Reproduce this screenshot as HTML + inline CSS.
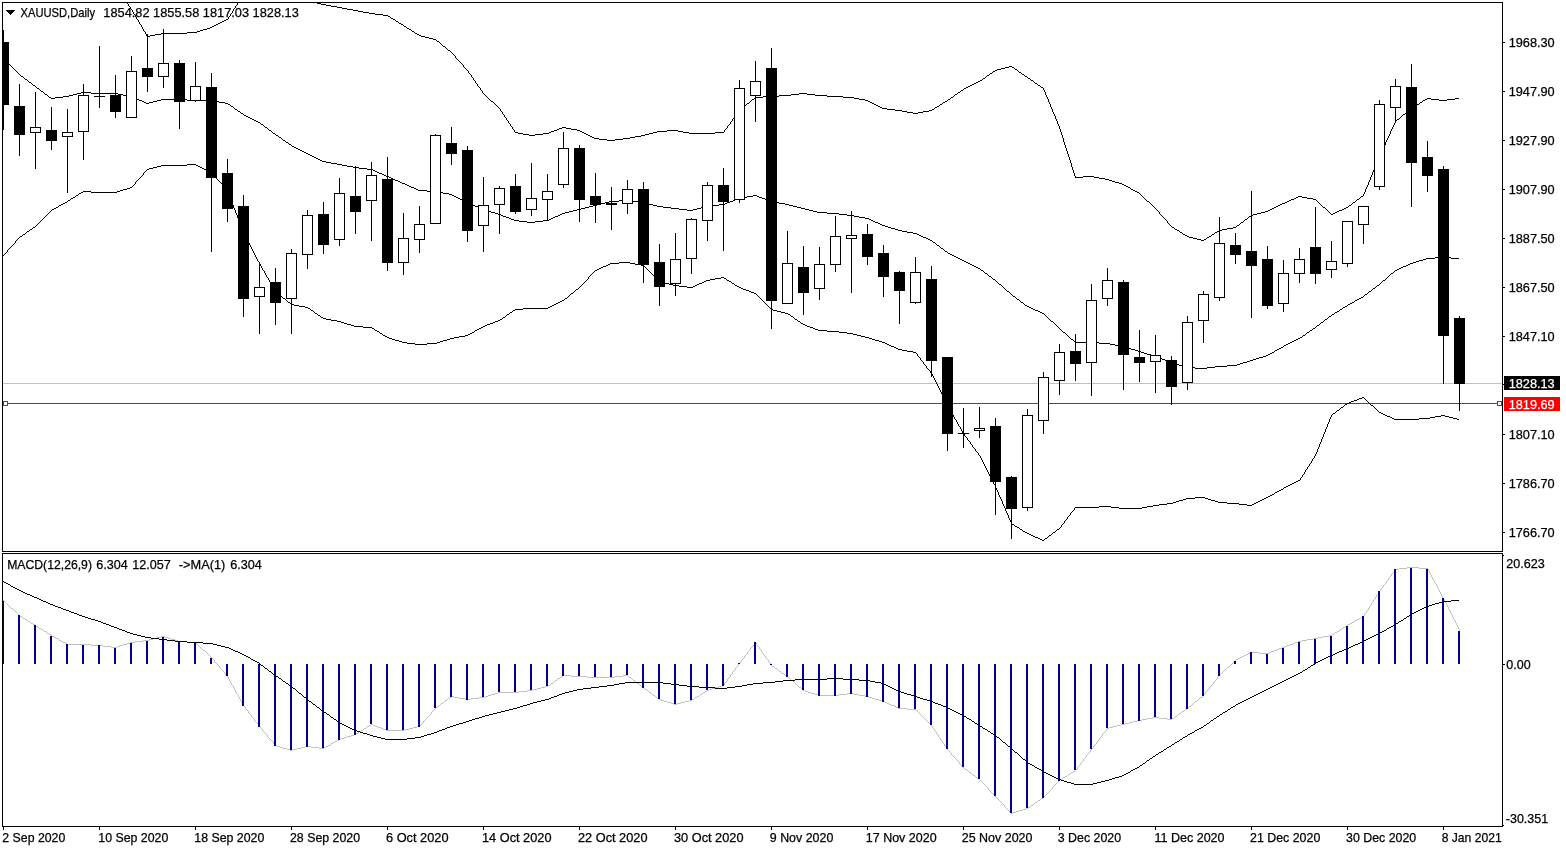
<!DOCTYPE html>
<html><head><meta charset="utf-8"><title>XAUUSD,Daily</title>
<style>
html,body{margin:0;padding:0;background:#fff;overflow:hidden}
svg{display:block}
text{font-family:"Liberation Sans",sans-serif;font-size:12.6px;fill:#000;stroke:#000;stroke-width:.25px}
.w{fill:#fff;stroke:#fff}
</style></head><body>
<svg width="1566" height="850" viewBox="0 0 1566 850">
<rect x="0" y="0" width="1566" height="850" fill="#fff"/>
<defs><clipPath id="cm"><rect x="3" y="3" width="1499" height="548"/></clipPath><clipPath id="cs"><rect x="3" y="554" width="1499" height="272"/></clipPath></defs>
<g shape-rendering="crispEdges">
<g clip-path="url(#cm)">
<rect x="3" y="383" width="1499" height="1" fill="#c0c0c0"/>
<rect x="3" y="403" width="1499" height="1" fill="#f00"/>
<path d="M317 3.5h4M321 4.5h5M326 5.5h5M331 6.5h6M337 7.5h5M342 8.5h5M347 9.5h6M353 10.5h5M358 11.5h5M363 12.5h6M369 13.5h6M375 14.5h8M383 15.5h5M388 16.5h2M391 18.5h2M226 19.5h2M393 19.5h2M224 20.5h2M222 21.5h2M396 21.5h2M220 22.5h2M218 23.5h2M399 23.5h2M216 24.5h2M401 24.5h2M214 25.5h2M212 26.5h2M404 26.5h2M210 27.5h2M207 28.5h3M407 28.5h2M203 29.5h4M409 29.5h2M200 30.5h3M197 31.5h3M412 31.5h2M187 32.5h10M161 33.5h26M415 33.5h2M155 34.5h6M417 34.5h2M150 35.5h5M419 35.5h2M147 36.5h3M421 36.5h4M425 37.5h4M429 38.5h4M433 39.5h3M437 41.5h2M443 46.5h2M448 50.5h2M1009 66.5h3M1005 67.5h4M1012 67.5h2M1001 68.5h4M997 69.5h4M1015 69.5h2M995 70.5h2M993 71.5h2M1019 72.5h2M990 73.5h2M1022 74.5h2M987 75.5h2M1025 76.5h2M983 78.5h2M1028 78.5h2M980 80.5h2M1031 80.5h2M978 81.5h2M976 82.5h2M974 83.5h2M1035 83.5h2M972 84.5h2M970 85.5h2M1038 85.5h2M968 86.5h2M966 87.5h2M1041 87.5h2M964 88.5h2M961 90.5h2M958 92.5h2M799 93.5h8M791 94.5h8M807 94.5h8M955 94.5h2M779 95.5h12M815 95.5h12M763 96.5h16M827 96.5h16M755 97.5h8M843 97.5h11M951 97.5h2M854 98.5h5M1427 98.5h4M1455 98.5h4M752 99.5h2M859 99.5h6M948 99.5h2M1425 99.5h2M1431 99.5h8M1447 99.5h8M865 100.5h3M1423 100.5h2M1439 100.5h8M491 101.5h2M868 101.5h2M945 101.5h2M870 102.5h2M943 102.5h2M1420 102.5h2M747 103.5h2M872 103.5h2M874 104.5h2M940 104.5h2M1417 104.5h2M876 105.5h2M1415 105.5h2M878 106.5h2M937 106.5h2M880 107.5h2M935 107.5h2M1412 107.5h2M741 108.5h2M882 108.5h5M887 109.5h8M932 109.5h2M895 110.5h7M929 110.5h3M1408 110.5h2M902 111.5h5M923 111.5h6M907 112.5h6M918 112.5h5M913 113.5h5M1403 114.5h2M1397 119.5h2M562 127.5h4M559 128.5h3M566 128.5h5M557 129.5h2M571 129.5h6M554 130.5h3M577 130.5h3M667 130.5h11M551 131.5h3M580 131.5h2M657 131.5h10M678 131.5h5M515 132.5h3M549 132.5h2M582 132.5h2M653 132.5h4M683 132.5h6M715 132.5h9M518 133.5h5M543 133.5h6M584 133.5h2M649 133.5h4M689 133.5h26M523 134.5h6M535 134.5h8M586 134.5h2M645 134.5h4M529 135.5h6M588 135.5h2M641 135.5h4M590 136.5h2M635 136.5h6M592 137.5h2M630 137.5h5M594 138.5h5M623 138.5h7M599 139.5h8M615 139.5h8M607 140.5h8M1083 176.5h11M1075 177.5h8M1094 177.5h5M1099 178.5h6M1105 179.5h4M1109 180.5h3M1112 181.5h3M1115 182.5h4M1119 183.5h3M1122 184.5h2M1124 185.5h2M1126 186.5h2M1128 187.5h2M1131 189.5h2M1133 190.5h2M1135 191.5h2M1137 192.5h2M1298 196.5h4M1361 196.5h2M1296 197.5h2M1302 197.5h5M1294 198.5h2M1307 198.5h6M1291 199.5h3M1313 199.5h3M1357 199.5h2M1289 200.5h2M1147 201.5h2M1287 201.5h2M1285 202.5h2M1353 202.5h2M1282 203.5h3M1280 204.5h2M1278 205.5h2M1349 205.5h2M1276 206.5h2M1274 207.5h2M1323 207.5h2M1346 207.5h2M1272 208.5h2M1344 208.5h2M1270 209.5h2M1342 209.5h2M1268 210.5h2M1339 210.5h3M1265 211.5h3M1337 211.5h2M1261 212.5h4M1335 212.5h2M1257 213.5h4M1333 213.5h2M1253 214.5h4M1331 214.5h2M1251 215.5h2M1249 216.5h2M1245 219.5h2M1241 222.5h2M1237 225.5h2M1172 227.5h2M1233 227.5h3M1227 228.5h6M1175 229.5h2M1222 229.5h5M1177 230.5h2M1219 230.5h3M1217 231.5h2M1180 232.5h2M1215 232.5h2M1183 234.5h2M1212 234.5h2M1185 235.5h2M1187 236.5h2M1209 236.5h2M1189 237.5h4M1207 237.5h2M1193 238.5h4M1197 239.5h4M1204 239.5h2M1201 240.5h3M127.5 3v1M128.5 4v2M129.5 6v1M130.5 7v2M131.5 9v1M132.5 10v2M133.5 12v2M134.5 14v1M135.5 15v2M136.5 17v2M137.5 19v1M138.5 20v2M139.5 22v2M140.5 24v1M141.5 25v2M142.5 27v2M143.5 29v2M144.5 31v1M145.5 32v2M146.5 34v2M228.5 17v2M229.5 16v1M230.5 14v2M231.5 13v1M232.5 11v2M233.5 9v2M234.5 8v1M235.5 6v2M236.5 5v1M237.5 3v2M390.5 17v1M395.5 20v1M398.5 22v1M403.5 25v1M406.5 27v1M411.5 30v1M414.5 32v1M436.5 40v1M439.5 42v1M440.5 43v1M441.5 44v1M442.5 45v1M445.5 47v1M446.5 48v1M447.5 49v1M450.5 51v1M451.5 52v1M452.5 53v1M453.5 54v1M454.5 55v1M455.5 56v2M456.5 58v1M457.5 59v1M458.5 60v1M459.5 61v1M460.5 62v1M461.5 63v1M462.5 64v1M463.5 65v2M464.5 67v1M465.5 68v1M466.5 69v1M467.5 70v1M468.5 71v2M469.5 73v1M470.5 74v1M471.5 75v2M472.5 77v1M473.5 78v2M474.5 80v1M475.5 81v2M476.5 83v1M477.5 84v2M478.5 86v1M479.5 87v1M480.5 88v2M481.5 90v1M482.5 91v2M483.5 93v1M484.5 94v1M485.5 95v1M486.5 96v1M487.5 97v1M488.5 98v1M489.5 99v1M490.5 100v1M493.5 102v1M494.5 103v1M495.5 104v1M496.5 105v1M497.5 106v1M498.5 107v1M499.5 108v1M500.5 109v2M501.5 111v1M502.5 112v2M503.5 114v1M504.5 115v2M505.5 117v1M506.5 118v2M507.5 120v1M508.5 121v2M509.5 123v1M510.5 124v2M511.5 126v1M512.5 127v2M513.5 129v1M514.5 130v2M724.5 130v2M725.5 129v1M726.5 128v1M727.5 126v2M728.5 125v1M729.5 124v1M730.5 122v2M731.5 121v1M732.5 119v2M733.5 118v1M734.5 117v1M735.5 115v2M736.5 114v1M737.5 113v1M738.5 111v2M739.5 110v1M740.5 109v1M743.5 107v1M744.5 106v1M745.5 105v1M746.5 104v1M749.5 102v1M750.5 101v1M751.5 100v1M754.5 98v1M934.5 108v1M939.5 105v1M942.5 103v1M947.5 100v1M950.5 98v1M953.5 96v1M954.5 95v1M957.5 93v1M960.5 91v1M963.5 89v1M982.5 79v1M985.5 77v1M986.5 76v1M989.5 74v1M992.5 72v1M1014.5 68v1M1017.5 70v1M1018.5 71v1M1021.5 73v1M1024.5 75v1M1027.5 77v1M1030.5 79v1M1033.5 81v1M1034.5 82v1M1037.5 84v1M1040.5 86v1M1043.5 88v2M1044.5 90v2M1045.5 92v3M1046.5 95v2M1047.5 97v2M1048.5 99v3M1049.5 102v2M1050.5 104v3M1051.5 107v2M1052.5 109v3M1053.5 112v2M1054.5 114v2M1055.5 116v3M1056.5 119v2M1057.5 121v3M1058.5 124v2M1059.5 126v3M1060.5 129v3M1061.5 132v3M1062.5 135v3M1063.5 138v4M1064.5 142v3M1065.5 145v3M1066.5 148v3M1067.5 151v3M1068.5 154v3M1069.5 157v3M1070.5 160v3M1071.5 163v4M1072.5 167v3M1073.5 170v3M1074.5 173v3M1075.5 176v1M1130.5 188v1M1139.5 193v1M1140.5 194v1M1141.5 195v1M1142.5 196v1M1143.5 197v1M1144.5 198v1M1145.5 199v1M1146.5 200v1M1149.5 202v1M1150.5 203v1M1151.5 204v1M1152.5 205v1M1153.5 206v1M1154.5 207v1M1155.5 208v1M1156.5 209v1M1157.5 210v1M1158.5 211v1M1159.5 212v2M1160.5 214v1M1161.5 215v1M1162.5 216v1M1163.5 217v1M1164.5 218v1M1165.5 219v1M1166.5 220v1M1167.5 221v2M1168.5 223v1M1169.5 224v1M1170.5 225v1M1171.5 226v1M1174.5 228v1M1179.5 231v1M1182.5 233v1M1206.5 238v1M1211.5 235v1M1214.5 233v1M1236.5 226v1M1239.5 224v1M1240.5 223v1M1243.5 221v1M1244.5 220v1M1247.5 218v1M1248.5 217v1M1316.5 200v1M1317.5 201v1M1318.5 202v1M1319.5 203v1M1320.5 204v1M1321.5 205v1M1322.5 206v1M1325.5 208v1M1326.5 209v1M1327.5 210v1M1328.5 211v1M1329.5 212v1M1330.5 213v1M1348.5 206v1M1351.5 204v1M1352.5 203v1M1355.5 201v1M1356.5 200v1M1359.5 198v1M1360.5 197v1M1363.5 194v2M1364.5 192v2M1365.5 189v3M1366.5 187v2M1367.5 185v2M1368.5 182v3M1369.5 180v2M1370.5 177v3M1371.5 175v2M1372.5 172v3M1373.5 170v2M1374.5 168v2M1375.5 165v3M1376.5 163v2M1377.5 160v3M1378.5 158v2M1379.5 155v3M1380.5 153v2M1381.5 151v2M1382.5 149v2M1383.5 147v2M1384.5 145v2M1385.5 142v3M1386.5 140v2M1387.5 138v2M1388.5 136v2M1389.5 134v2M1390.5 131v3M1391.5 129v2M1392.5 127v2M1393.5 125v2M1394.5 123v2M1395.5 121v2M1396.5 120v1M1399.5 118v1M1400.5 117v1M1401.5 116v1M1402.5 115v1M1405.5 113v1M1406.5 112v1M1407.5 111v1M1410.5 109v1M1411.5 108v1M1414.5 106v1M1419.5 103v1M1422.5 101v1" fill="none" stroke="#000" stroke-width="1"/>
<path d="M21 76.5h2M25 79.5h2M29 82.5h2M33 85.5h2M37 88.5h2M41 91.5h2M81 92.5h10M77 93.5h4M91 93.5h27M45 94.5h2M73 94.5h4M118 94.5h5M69 95.5h4M123 95.5h6M63 96.5h6M129 96.5h4M49 97.5h2M55 97.5h8M133 97.5h2M51 98.5h4M135 98.5h2M137 99.5h2M161 99.5h26M139 100.5h3M157 100.5h4M187 100.5h27M142 101.5h2M153 101.5h4M214 101.5h5M144 102.5h2M149 102.5h4M219 102.5h6M146 103.5h3M225 103.5h3M228 104.5h2M231 106.5h2M235 109.5h2M238 111.5h2M241 113.5h2M244 115.5h2M246 116.5h2M248 117.5h2M250 118.5h2M252 119.5h2M254 120.5h2M256 121.5h2M258 122.5h2M261 124.5h2M265 127.5h2M269 130.5h2M273 133.5h2M276 135.5h2M279 137.5h2M283 140.5h2M286 142.5h2M289 144.5h2M292 146.5h2M294 147.5h2M296 148.5h2M298 149.5h2M300 150.5h2M302 151.5h2M304 152.5h2M306 153.5h2M308 154.5h2M310 155.5h2M312 156.5h2M314 157.5h2M316 158.5h2M318 159.5h2M320 160.5h2M322 161.5h4M326 162.5h5M331 163.5h6M337 164.5h5M342 165.5h5M347 166.5h6M353 167.5h6M359 168.5h8M367 169.5h6M373 170.5h2M375 171.5h2M377 172.5h2M379 173.5h3M382 174.5h2M384 175.5h2M386 176.5h3M389 177.5h2M391 178.5h2M393 179.5h2M395 180.5h3M398 181.5h2M400 182.5h2M402 183.5h3M405 184.5h2M407 185.5h2M409 186.5h2M411 187.5h3M414 188.5h2M416 189.5h2M418 190.5h9M427 191.5h11M438 192.5h5M443 193.5h6M449 194.5h3M452 195.5h2M753 195.5h4M454 196.5h2M747 196.5h6M757 196.5h2M456 197.5h2M742 197.5h5M759 197.5h3M458 198.5h2M738 198.5h4M762 198.5h3M460 199.5h2M735 199.5h3M765 199.5h2M462 200.5h2M619 200.5h12M733 200.5h2M767 200.5h3M464 201.5h2M609 201.5h10M631 201.5h8M730 201.5h3M770 201.5h4M466 202.5h3M605 202.5h4M639 202.5h6M727 202.5h3M774 202.5h5M469 203.5h2M601 203.5h4M645 203.5h4M725 203.5h2M779 203.5h6M471 204.5h2M597 204.5h4M649 204.5h4M719 204.5h6M785 204.5h4M473 205.5h2M593 205.5h4M653 205.5h4M711 205.5h8M789 205.5h4M475 206.5h3M589 206.5h4M657 206.5h6M705 206.5h6M793 206.5h4M478 207.5h2M585 207.5h4M663 207.5h8M701 207.5h4M797 207.5h4M480 208.5h2M581 208.5h4M671 208.5h8M697 208.5h4M801 208.5h4M482 209.5h3M577 209.5h4M679 209.5h8M693 209.5h4M805 209.5h4M485 210.5h3M573 210.5h4M687 210.5h6M809 210.5h4M488 211.5h3M569 211.5h4M813 211.5h4M491 212.5h4M565 212.5h4M817 212.5h10M495 213.5h3M562 213.5h3M827 213.5h12M498 214.5h3M560 214.5h2M839 214.5h8M501 215.5h2M558 215.5h2M847 215.5h7M503 216.5h3M555 216.5h3M854 216.5h5M506 217.5h3M553 217.5h2M859 217.5h6M509 218.5h2M551 218.5h2M865 218.5h4M511 219.5h3M549 219.5h2M869 219.5h2M514 220.5h5M543 220.5h6M871 220.5h2M519 221.5h8M535 221.5h8M873 221.5h2M527 222.5h8M875 222.5h3M878 223.5h2M880 224.5h2M882 225.5h3M885 226.5h3M888 227.5h3M891 228.5h4M895 229.5h3M898 230.5h4M902 231.5h5M907 232.5h6M913 233.5h4M917 234.5h2M919 235.5h2M921 236.5h2M923 237.5h3M926 238.5h2M928 239.5h2M930 240.5h2M933 242.5h2M937 245.5h2M941 248.5h2M945 251.5h2M948 253.5h2M950 254.5h2M952 255.5h2M954 256.5h2M956 257.5h2M1435 257.5h16M958 258.5h2M1426 258.5h9M1451 258.5h8M960 259.5h2M1423 259.5h3M962 260.5h2M1419 260.5h4M964 261.5h2M1416 261.5h3M966 262.5h2M1413 262.5h3M968 263.5h2M1410 263.5h3M970 264.5h2M1408 264.5h2M972 265.5h2M1406 265.5h2M974 266.5h2M1403 266.5h3M976 267.5h2M1401 267.5h2M978 268.5h2M1399 268.5h2M1397 269.5h2M981 270.5h2M1395 270.5h2M985 273.5h2M1391 273.5h2M989 276.5h2M993 279.5h2M1383 280.5h2M999 284.5h2M1377 285.5h2M1373 288.5h2M1007 291.5h2M1369 291.5h2M1365 294.5h2M1013 296.5h2M1361 297.5h2M1359 298.5h2M1017 299.5h2M1357 299.5h2M1355 300.5h2M1021 302.5h2M1352 302.5h2M1350 303.5h2M1348 304.5h2M1025 305.5h2M1027 306.5h2M1345 306.5h2M1029 307.5h2M1343 307.5h2M1031 308.5h2M1033 309.5h2M1340 309.5h2M1035 310.5h3M1038 311.5h2M1337 311.5h2M1040 312.5h2M1335 312.5h2M1042 313.5h2M1332 314.5h2M1329 316.5h2M1325 319.5h2M1051 321.5h2M1321 322.5h2M1317 325.5h2M1313 328.5h2M1310 330.5h2M1063 332.5h2M1307 332.5h2M1303 335.5h2M1300 337.5h2M1298 338.5h2M1071 339.5h2M1296 339.5h2M1294 340.5h2M1292 341.5h2M1075 342.5h24M1290 342.5h2M1099 343.5h11M1288 343.5h2M1110 344.5h5M1286 344.5h2M1115 345.5h6M1284 345.5h2M1121 346.5h4M1125 347.5h3M1281 347.5h2M1128 348.5h3M1279 348.5h2M1131 349.5h4M1277 349.5h2M1135 350.5h3M1275 350.5h2M1138 351.5h3M1141 352.5h3M1272 352.5h2M1144 353.5h3M1270 353.5h2M1147 354.5h4M1268 354.5h2M1151 355.5h3M1266 355.5h2M1154 356.5h3M1263 356.5h3M1157 357.5h2M1259 357.5h4M1159 358.5h3M1256 358.5h3M1162 359.5h3M1253 359.5h3M1165 360.5h2M1250 360.5h3M1167 361.5h3M1247 361.5h3M1170 362.5h3M1243 362.5h4M1173 363.5h3M1240 363.5h3M1176 364.5h3M1237 364.5h3M1179 365.5h4M1227 365.5h10M1183 366.5h3M1215 366.5h12M1186 367.5h9M1207 367.5h8M1195 368.5h12M3.5 58v1M4.5 59v1M5.5 60v1M6.5 61v1M7.5 62v1M8.5 63v1M9.5 64v1M10.5 65v1M11.5 66v1M12.5 67v1M13.5 68v1M14.5 69v1M15.5 70v1M16.5 71v1M17.5 72v1M18.5 73v1M19.5 74v1M20.5 75v1M23.5 77v1M24.5 78v1M27.5 80v1M28.5 81v1M31.5 83v1M32.5 84v1M35.5 86v1M36.5 87v1M39.5 89v1M40.5 90v1M43.5 92v1M44.5 93v1M47.5 95v1M48.5 96v1M230.5 105v1M233.5 107v1M234.5 108v1M237.5 110v1M240.5 112v1M243.5 114v1M260.5 123v1M263.5 125v1M264.5 126v1M267.5 128v1M268.5 129v1M271.5 131v1M272.5 132v1M275.5 134v1M278.5 136v1M281.5 138v1M282.5 139v1M285.5 141v1M288.5 143v1M291.5 145v1M932.5 241v1M935.5 243v1M936.5 244v1M939.5 246v1M940.5 247v1M943.5 249v1M944.5 250v1M947.5 252v1M980.5 269v1M983.5 271v1M984.5 272v1M987.5 274v1M988.5 275v1M991.5 277v1M992.5 278v1M995.5 280v1M996.5 281v1M997.5 282v1M998.5 283v1M1001.5 285v1M1002.5 286v1M1003.5 287v1M1004.5 288v1M1005.5 289v1M1006.5 290v1M1009.5 292v1M1010.5 293v1M1011.5 294v1M1012.5 295v1M1015.5 297v1M1016.5 298v1M1019.5 300v1M1020.5 301v1M1023.5 303v1M1024.5 304v1M1044.5 314v1M1045.5 315v1M1046.5 316v1M1047.5 317v1M1048.5 318v1M1049.5 319v1M1050.5 320v1M1053.5 322v1M1054.5 323v1M1055.5 324v1M1056.5 325v1M1057.5 326v1M1058.5 327v1M1059.5 328v1M1060.5 329v1M1061.5 330v1M1062.5 331v1M1065.5 333v1M1066.5 334v1M1067.5 335v1M1068.5 336v1M1069.5 337v1M1070.5 338v1M1073.5 340v1M1074.5 341v1M1274.5 351v1M1283.5 346v1M1302.5 336v1M1305.5 334v1M1306.5 333v1M1309.5 331v1M1312.5 329v1M1315.5 327v1M1316.5 326v1M1319.5 324v1M1320.5 323v1M1323.5 321v1M1324.5 320v1M1327.5 318v1M1328.5 317v1M1331.5 315v1M1334.5 313v1M1339.5 310v1M1342.5 308v1M1347.5 305v1M1354.5 301v1M1363.5 296v1M1364.5 295v1M1367.5 293v1M1368.5 292v1M1371.5 290v1M1372.5 289v1M1375.5 287v1M1376.5 286v1M1379.5 284v1M1380.5 283v1M1381.5 282v1M1382.5 281v1M1385.5 279v1M1386.5 278v1M1387.5 277v1M1388.5 276v1M1389.5 275v1M1390.5 274v1M1393.5 272v1M1394.5 271v1" fill="none" stroke="#000" stroke-width="1"/>
<path d="M187 164.5h9M161 165.5h26M196 165.5h2M157 166.5h4M198 166.5h2M153 167.5h4M200 167.5h2M149 168.5h4M202 168.5h2M147 169.5h2M204 169.5h2M206 170.5h2M208 171.5h2M210 172.5h2M130 187.5h2M127 188.5h3M123 189.5h4M120 190.5h3M83 191.5h8M117 191.5h3M81 192.5h2M91 192.5h26M79 193.5h2M76 195.5h2M73 197.5h2M71 198.5h2M68 200.5h2M65 202.5h2M63 203.5h2M61 204.5h2M59 205.5h2M56 207.5h2M54 208.5h2M52 209.5h2M33 227.5h2M30 229.5h2M27 231.5h2M23 234.5h2M20 236.5h2M619 262.5h11M610 263.5h9M630 263.5h5M608 264.5h2M635 264.5h6M606 265.5h2M641 265.5h3M603 266.5h3M601 267.5h2M599 268.5h2M597 269.5h2M595 270.5h2M721 277.5h3M715 278.5h6M724 278.5h2M710 279.5h5M706 280.5h4M727 280.5h2M659 281.5h2M704 281.5h2M729 281.5h2M661 282.5h4M702 282.5h2M665 283.5h4M699 283.5h3M732 283.5h2M669 284.5h4M697 284.5h2M673 285.5h6M695 285.5h2M735 285.5h2M679 286.5h8M693 286.5h2M737 286.5h2M687 287.5h6M739 287.5h2M741 288.5h2M576 289.5h2M743 289.5h3M746 290.5h3M749 291.5h2M751 292.5h3M277 293.5h2M571 293.5h2M754 293.5h2M283 298.5h2M565 298.5h2M562 300.5h2M560 301.5h2M288 302.5h2M558 302.5h2M556 303.5h2M291 304.5h3M554 304.5h2M294 305.5h5M552 305.5h2M299 306.5h6M550 306.5h2M305 307.5h3M548 307.5h2M308 308.5h2M523 308.5h25M515 309.5h8M771 309.5h2M311 310.5h2M513 310.5h2M773 310.5h4M777 311.5h4M510 312.5h2M781 312.5h4M315 313.5h2M785 313.5h3M507 314.5h2M788 314.5h2M318 315.5h2M791 316.5h2M321 317.5h2M503 317.5h2M323 318.5h3M326 319.5h5M500 319.5h2M795 319.5h2M331 320.5h6M498 320.5h2M337 321.5h4M495 321.5h3M798 321.5h2M341 322.5h3M493 322.5h2M344 323.5h3M490 323.5h3M801 323.5h2M347 324.5h4M487 324.5h3M803 324.5h2M351 325.5h3M485 325.5h2M805 325.5h2M354 326.5h9M483 326.5h2M807 326.5h3M363 327.5h9M481 327.5h2M810 327.5h3M372 328.5h2M479 328.5h2M813 328.5h2M477 329.5h2M815 329.5h3M375 330.5h2M475 330.5h2M818 330.5h9M377 331.5h2M827 331.5h12M472 332.5h2M839 332.5h8M380 333.5h2M470 333.5h2M847 333.5h6M468 334.5h2M853 334.5h4M383 335.5h2M465 335.5h3M857 335.5h4M385 336.5h2M459 336.5h6M861 336.5h4M387 337.5h2M454 337.5h5M865 337.5h4M389 338.5h3M450 338.5h4M869 338.5h3M392 339.5h3M447 339.5h3M872 339.5h3M395 340.5h4M443 340.5h4M875 340.5h4M399 341.5h3M440 341.5h3M879 341.5h3M402 342.5h5M437 342.5h3M882 342.5h3M407 343.5h8M427 343.5h10M885 343.5h2M415 344.5h12M887 344.5h2M889 345.5h2M891 346.5h3M894 347.5h2M896 348.5h2M898 349.5h4M902 350.5h5M907 351.5h6M913 352.5h3M1362 397.5h2M1359 398.5h3M1357 399.5h2M1354 400.5h3M1351 401.5h3M1349 402.5h2M1347 403.5h2M1345 404.5h2M1371 405.5h2M1341 407.5h2M1337 410.5h2M1379 412.5h2M1333 413.5h2M1381 413.5h2M1383 414.5h2M1385 415.5h2M1441 415.5h4M1387 416.5h3M1435 416.5h6M1445 416.5h4M1390 417.5h2M1430 417.5h5M1449 417.5h4M1392 418.5h2M1419 418.5h11M1453 418.5h4M1394 419.5h25M1457 419.5h2M1298 480.5h2M1296 481.5h2M1294 482.5h2M1292 483.5h2M1290 484.5h2M1288 485.5h2M1286 486.5h2M1284 487.5h2M1281 489.5h2M1279 490.5h2M1277 491.5h2M1275 492.5h2M1272 494.5h2M1270 495.5h2M1268 496.5h2M1195 497.5h10M1266 497.5h2M1186 498.5h9M1205 498.5h3M1264 498.5h2M1183 499.5h3M1208 499.5h3M1262 499.5h2M1179 500.5h4M1211 500.5h4M1260 500.5h2M1176 501.5h3M1215 501.5h3M1258 501.5h2M1173 502.5h3M1218 502.5h9M1256 502.5h2M1167 503.5h6M1227 503.5h12M1254 503.5h2M1159 504.5h8M1239 504.5h8M1252 504.5h2M1153 505.5h6M1247 505.5h5M1099 506.5h12M1147 506.5h6M1075 507.5h24M1111 507.5h8M1142 507.5h5M1119 508.5h23M1012 524.5h2M1015 526.5h2M1017 527.5h2M1020 529.5h2M1057 529.5h2M1023 531.5h2M1025 532.5h2M1053 532.5h2M1027 533.5h2M1029 534.5h2M1031 535.5h2M1049 535.5h2M1033 536.5h2M1035 537.5h3M1038 538.5h2M1045 538.5h2M1040 539.5h2M1042 540.5h2M3.5 255v1M4.5 254v1M5.5 253v1M6.5 252v1M7.5 250v2M8.5 249v1M9.5 248v1M10.5 247v1M11.5 246v1M12.5 245v1M13.5 244v1M14.5 243v1M15.5 241v2M16.5 240v1M17.5 239v1M18.5 238v1M19.5 237v1M22.5 235v1M25.5 233v1M26.5 232v1M29.5 230v1M32.5 228v1M35.5 226v1M36.5 225v1M37.5 224v1M38.5 223v1M39.5 222v1M40.5 221v1M41.5 220v1M42.5 219v1M43.5 218v1M44.5 217v1M45.5 216v1M46.5 215v1M47.5 214v1M48.5 213v1M49.5 212v1M50.5 211v1M51.5 210v1M58.5 206v1M67.5 201v1M70.5 199v1M75.5 196v1M78.5 194v1M132.5 186v1M133.5 185v1M134.5 184v1M135.5 182v2M136.5 181v1M137.5 180v1M138.5 179v1M139.5 178v1M140.5 177v1M141.5 176v1M142.5 175v1M143.5 173v2M144.5 172v1M145.5 171v1M146.5 170v1M212.5 173v1M213.5 174v1M214.5 175v1M215.5 176v2M216.5 178v1M217.5 179v1M218.5 180v1M219.5 181v1M220.5 182v1M221.5 183v1M222.5 184v1M223.5 185v2M224.5 187v1M225.5 188v1M226.5 189v1M227.5 190v2M228.5 192v2M229.5 194v3M230.5 197v3M231.5 200v2M232.5 202v3M233.5 205v3M234.5 208v2M235.5 210v3M236.5 213v2M237.5 215v3M238.5 218v3M239.5 221v2M240.5 223v3M241.5 226v3M242.5 229v2M243.5 231v2M244.5 233v2M245.5 235v2M246.5 237v2M247.5 239v2M248.5 241v2M249.5 243v2M250.5 245v2M251.5 247v2M252.5 249v2M253.5 251v2M254.5 253v2M255.5 255v2M256.5 257v2M257.5 259v2M258.5 261v1M259.5 262v2M260.5 264v2M261.5 266v2M262.5 268v2M263.5 270v1M264.5 271v2M265.5 273v2M266.5 275v2M267.5 277v1M268.5 278v2M269.5 280v2M270.5 282v2M271.5 284v1M272.5 285v2M273.5 287v2M274.5 289v2M275.5 291v1M276.5 292v1M279.5 294v1M280.5 295v1M281.5 296v1M282.5 297v1M285.5 299v1M286.5 300v1M287.5 301v1M290.5 303v1M310.5 309v1M313.5 311v1M314.5 312v1M317.5 314v1M320.5 316v1M374.5 329v1M379.5 332v1M382.5 334v1M474.5 331v1M502.5 318v1M505.5 316v1M506.5 315v1M509.5 313v1M512.5 311v1M564.5 299v1M567.5 297v1M568.5 296v1M569.5 295v1M570.5 294v1M573.5 292v1M574.5 291v1M575.5 290v1M578.5 288v1M579.5 287v1M580.5 286v1M581.5 285v1M582.5 284v1M583.5 283v1M584.5 282v1M585.5 281v1M586.5 280v1M587.5 279v1M588.5 277v2M589.5 276v1M590.5 275v1M591.5 274v1M592.5 273v1M593.5 272v1M594.5 271v1M644.5 266v1M645.5 267v1M646.5 268v1M647.5 269v1M648.5 270v1M649.5 271v1M650.5 272v1M651.5 273v1M652.5 274v1M653.5 275v1M654.5 276v1M655.5 277v1M656.5 278v1M657.5 279v1M658.5 280v1M726.5 279v1M731.5 282v1M734.5 284v1M756.5 294v1M757.5 295v1M758.5 296v1M759.5 297v1M760.5 298v1M761.5 299v1M762.5 300v1M763.5 301v1M764.5 302v1M765.5 303v1M766.5 304v1M767.5 305v1M768.5 306v1M769.5 307v1M770.5 308v1M790.5 315v1M793.5 317v1M794.5 318v1M797.5 320v1M800.5 322v1M916.5 353v1M917.5 354v2M918.5 356v1M919.5 357v1M920.5 358v2M921.5 360v1M922.5 361v1M923.5 362v2M924.5 364v1M925.5 365v1M926.5 366v2M927.5 368v1M928.5 369v1M929.5 370v1M930.5 371v2M931.5 373v1M932.5 374v2M933.5 376v2M934.5 378v2M935.5 380v2M936.5 382v2M937.5 384v2M938.5 386v2M939.5 388v2M940.5 390v2M941.5 392v2M942.5 394v2M943.5 396v2M944.5 398v2M945.5 400v2M946.5 402v2M947.5 404v2M948.5 406v2M949.5 408v2M950.5 410v2M951.5 412v1M952.5 413v2M953.5 415v2M954.5 417v2M955.5 419v1M956.5 420v2M957.5 422v2M958.5 424v2M959.5 426v1M960.5 427v2M961.5 429v2M962.5 431v2M963.5 433v1M964.5 434v2M965.5 436v1M966.5 437v1M967.5 438v2M968.5 440v1M969.5 441v1M970.5 442v2M971.5 444v1M972.5 445v2M973.5 447v1M974.5 448v1M975.5 449v2M976.5 451v1M977.5 452v1M978.5 453v2M979.5 455v1M980.5 456v2M981.5 458v2M982.5 460v2M983.5 462v2M984.5 464v2M985.5 466v2M986.5 468v2M987.5 470v2M988.5 472v2M989.5 474v2M990.5 476v2M991.5 478v2M992.5 480v2M993.5 482v2M994.5 484v1M995.5 485v3M996.5 488v2M997.5 490v2M998.5 492v3M999.5 495v2M1000.5 497v2M1001.5 499v2M1002.5 501v3M1003.5 504v2M1004.5 506v2M1005.5 508v3M1006.5 511v2M1007.5 513v2M1008.5 515v3M1009.5 518v2M1010.5 520v2M1011.5 522v2M1014.5 525v1M1019.5 528v1M1022.5 530v1M1044.5 539v1M1047.5 537v1M1048.5 536v1M1051.5 534v1M1052.5 533v1M1055.5 531v1M1056.5 530v1M1059.5 528v1M1060.5 527v1M1061.5 525v2M1062.5 524v1M1063.5 523v1M1064.5 521v2M1065.5 520v1M1066.5 519v1M1067.5 517v2M1068.5 516v1M1069.5 515v1M1070.5 513v2M1071.5 512v1M1072.5 511v1M1073.5 510v1M1074.5 508v2M1274.5 493v1M1283.5 488v1M1300.5 478v2M1301.5 477v1M1302.5 475v2M1303.5 474v1M1304.5 472v2M1305.5 470v2M1306.5 469v1M1307.5 467v2M1308.5 466v1M1309.5 464v2M1310.5 463v1M1311.5 461v2M1312.5 459v2M1313.5 458v1M1314.5 456v2M1315.5 454v2M1316.5 452v2M1317.5 449v3M1318.5 447v2M1319.5 444v3M1320.5 442v2M1321.5 439v3M1322.5 437v2M1323.5 434v3M1324.5 432v2M1325.5 429v3M1326.5 427v2M1327.5 424v3M1328.5 422v2M1329.5 419v3M1330.5 417v2M1331.5 415v2M1332.5 414v1M1335.5 412v1M1336.5 411v1M1339.5 409v1M1340.5 408v1M1343.5 406v1M1344.5 405v1M1364.5 398v1M1365.5 399v1M1366.5 400v1M1367.5 401v1M1368.5 402v1M1369.5 403v1M1370.5 404v1M1373.5 406v1M1374.5 407v1M1375.5 408v1M1376.5 409v1M1377.5 410v1M1378.5 411v1" fill="none" stroke="#000" stroke-width="1"/>
<rect x="3" y="30" width="1" height="100" fill="#000"/><rect x="-2" y="42" width="11" height="63" fill="#000"/>
<rect x="19" y="84" width="1" height="72" fill="#000"/><rect x="14" y="106" width="11" height="29" fill="#000"/>
<rect x="35" y="92" width="1" height="77" fill="#000"/><rect x="30" y="127" width="11" height="6" fill="#000"/><rect x="31" y="128" width="9" height="4" fill="#fff"/>
<rect x="51" y="107" width="1" height="43" fill="#000"/><rect x="46" y="130" width="11" height="11" fill="#000"/>
<rect x="67" y="109" width="1" height="84" fill="#000"/><rect x="62" y="132" width="11" height="5" fill="#000"/><rect x="63" y="133" width="9" height="3" fill="#fff"/>
<rect x="83" y="84" width="1" height="76" fill="#000"/><rect x="78" y="95" width="11" height="37" fill="#000"/><rect x="79" y="96" width="9" height="35" fill="#fff"/>
<rect x="99" y="46" width="1" height="62" fill="#000"/><rect x="94" y="96" width="11" height="1" fill="#000"/>
<rect x="115" y="75" width="1" height="43" fill="#000"/><rect x="110" y="95" width="11" height="17" fill="#000"/>
<rect x="131" y="56" width="1" height="62" fill="#000"/><rect x="126" y="71" width="11" height="47" fill="#000"/><rect x="127" y="72" width="9" height="45" fill="#fff"/>
<rect x="147" y="34" width="1" height="58" fill="#000"/><rect x="142" y="68" width="11" height="9" fill="#000"/>
<rect x="163" y="29" width="1" height="59" fill="#000"/><rect x="158" y="63" width="11" height="14" fill="#000"/><rect x="159" y="64" width="9" height="12" fill="#fff"/>
<rect x="179" y="60" width="1" height="69" fill="#000"/><rect x="174" y="63" width="11" height="39" fill="#000"/>
<rect x="195" y="62" width="1" height="40" fill="#000"/><rect x="190" y="86" width="11" height="15" fill="#000"/><rect x="191" y="87" width="9" height="13" fill="#fff"/>
<rect x="211" y="73" width="1" height="179" fill="#000"/><rect x="206" y="87" width="11" height="91" fill="#000"/>
<rect x="227" y="159" width="1" height="63" fill="#000"/><rect x="222" y="173" width="11" height="36" fill="#000"/>
<rect x="243" y="195" width="1" height="122" fill="#000"/><rect x="238" y="206" width="11" height="93" fill="#000"/>
<rect x="259" y="264" width="1" height="70" fill="#000"/><rect x="254" y="287" width="11" height="10" fill="#000"/><rect x="255" y="288" width="9" height="8" fill="#fff"/>
<rect x="275" y="268" width="1" height="57" fill="#000"/><rect x="270" y="282" width="11" height="21" fill="#000"/>
<rect x="291" y="249" width="1" height="85" fill="#000"/><rect x="286" y="253" width="11" height="46" fill="#000"/><rect x="287" y="254" width="9" height="44" fill="#fff"/>
<rect x="307" y="210" width="1" height="59" fill="#000"/><rect x="302" y="215" width="11" height="40" fill="#000"/><rect x="303" y="216" width="9" height="38" fill="#fff"/>
<rect x="323" y="202" width="1" height="52" fill="#000"/><rect x="318" y="214" width="11" height="31" fill="#000"/>
<rect x="339" y="178" width="1" height="68" fill="#000"/><rect x="334" y="193" width="11" height="47" fill="#000"/><rect x="335" y="194" width="9" height="45" fill="#fff"/>
<rect x="355" y="166" width="1" height="68" fill="#000"/><rect x="350" y="196" width="11" height="16" fill="#000"/>
<rect x="371" y="162" width="1" height="79" fill="#000"/><rect x="366" y="175" width="11" height="26" fill="#000"/><rect x="367" y="176" width="9" height="24" fill="#fff"/>
<rect x="387" y="157" width="1" height="114" fill="#000"/><rect x="382" y="179" width="11" height="84" fill="#000"/>
<rect x="403" y="213" width="1" height="62" fill="#000"/><rect x="398" y="238" width="11" height="25" fill="#000"/><rect x="399" y="239" width="9" height="23" fill="#fff"/>
<rect x="419" y="206" width="1" height="47" fill="#000"/><rect x="414" y="224" width="11" height="16" fill="#000"/><rect x="415" y="225" width="9" height="14" fill="#fff"/>
<rect x="435" y="134" width="1" height="90" fill="#000"/><rect x="430" y="135" width="11" height="89" fill="#000"/><rect x="431" y="136" width="9" height="87" fill="#fff"/>
<rect x="451" y="127" width="1" height="38" fill="#000"/><rect x="446" y="143" width="11" height="11" fill="#000"/>
<rect x="467" y="146" width="1" height="96" fill="#000"/><rect x="462" y="150" width="11" height="81" fill="#000"/>
<rect x="483" y="177" width="1" height="75" fill="#000"/><rect x="478" y="205" width="11" height="21" fill="#000"/><rect x="479" y="206" width="9" height="19" fill="#fff"/>
<rect x="499" y="186" width="1" height="48" fill="#000"/><rect x="494" y="188" width="11" height="17" fill="#000"/><rect x="495" y="189" width="9" height="15" fill="#fff"/>
<rect x="515" y="174" width="1" height="40" fill="#000"/><rect x="510" y="186" width="11" height="26" fill="#000"/>
<rect x="531" y="163" width="1" height="53" fill="#000"/><rect x="526" y="198" width="11" height="12" fill="#000"/><rect x="527" y="199" width="9" height="10" fill="#fff"/>
<rect x="547" y="174" width="1" height="47" fill="#000"/><rect x="542" y="191" width="11" height="9" fill="#000"/><rect x="543" y="192" width="9" height="7" fill="#fff"/>
<rect x="563" y="132" width="1" height="56" fill="#000"/><rect x="558" y="148" width="11" height="37" fill="#000"/><rect x="559" y="149" width="9" height="35" fill="#fff"/>
<rect x="579" y="145" width="1" height="77" fill="#000"/><rect x="574" y="148" width="11" height="52" fill="#000"/>
<rect x="595" y="173" width="1" height="50" fill="#000"/><rect x="590" y="196" width="11" height="9" fill="#000"/>
<rect x="611" y="187" width="1" height="43" fill="#000"/><rect x="606" y="203" width="11" height="2" fill="#000"/>
<rect x="627" y="180" width="1" height="34" fill="#000"/><rect x="622" y="189" width="11" height="15" fill="#000"/><rect x="623" y="190" width="9" height="13" fill="#fff"/>
<rect x="643" y="182" width="1" height="101" fill="#000"/><rect x="638" y="189" width="11" height="76" fill="#000"/>
<rect x="659" y="244" width="1" height="62" fill="#000"/><rect x="654" y="262" width="11" height="25" fill="#000"/>
<rect x="675" y="233" width="1" height="63" fill="#000"/><rect x="670" y="259" width="11" height="25" fill="#000"/><rect x="671" y="260" width="9" height="23" fill="#fff"/>
<rect x="691" y="218" width="1" height="56" fill="#000"/><rect x="686" y="219" width="11" height="40" fill="#000"/><rect x="687" y="220" width="9" height="38" fill="#fff"/>
<rect x="707" y="182" width="1" height="59" fill="#000"/><rect x="702" y="185" width="11" height="36" fill="#000"/><rect x="703" y="186" width="9" height="34" fill="#fff"/>
<rect x="723" y="168" width="1" height="83" fill="#000"/><rect x="718" y="185" width="11" height="17" fill="#000"/>
<rect x="739" y="80" width="1" height="123" fill="#000"/><rect x="734" y="88" width="11" height="112" fill="#000"/><rect x="735" y="89" width="9" height="110" fill="#fff"/>
<rect x="755" y="61" width="1" height="61" fill="#000"/><rect x="750" y="81" width="11" height="15" fill="#000"/><rect x="751" y="82" width="9" height="13" fill="#fff"/>
<rect x="771" y="48" width="1" height="281" fill="#000"/><rect x="766" y="68" width="11" height="233" fill="#000"/>
<rect x="787" y="231" width="1" height="73" fill="#000"/><rect x="782" y="263" width="11" height="41" fill="#000"/><rect x="783" y="264" width="9" height="39" fill="#fff"/>
<rect x="803" y="246" width="1" height="69" fill="#000"/><rect x="798" y="267" width="11" height="26" fill="#000"/>
<rect x="819" y="247" width="1" height="53" fill="#000"/><rect x="814" y="264" width="11" height="25" fill="#000"/><rect x="815" y="265" width="9" height="23" fill="#fff"/>
<rect x="835" y="216" width="1" height="56" fill="#000"/><rect x="830" y="236" width="11" height="29" fill="#000"/><rect x="831" y="237" width="9" height="27" fill="#fff"/>
<rect x="851" y="211" width="1" height="82" fill="#000"/><rect x="846" y="235" width="11" height="4" fill="#000"/><rect x="847" y="236" width="9" height="2" fill="#fff"/>
<rect x="867" y="224" width="1" height="41" fill="#000"/><rect x="862" y="234" width="11" height="23" fill="#000"/>
<rect x="883" y="245" width="1" height="52" fill="#000"/><rect x="878" y="253" width="11" height="24" fill="#000"/>
<rect x="899" y="271" width="1" height="53" fill="#000"/><rect x="894" y="272" width="11" height="19" fill="#000"/>
<rect x="915" y="257" width="1" height="47" fill="#000"/><rect x="910" y="272" width="11" height="31" fill="#000"/><rect x="911" y="273" width="9" height="29" fill="#fff"/>
<rect x="931" y="266" width="1" height="111" fill="#000"/><rect x="926" y="279" width="11" height="82" fill="#000"/>
<rect x="947" y="357" width="1" height="94" fill="#000"/><rect x="942" y="357" width="11" height="77" fill="#000"/>
<rect x="963" y="408" width="1" height="40" fill="#000"/><rect x="958" y="433" width="11" height="1" fill="#000"/>
<rect x="979" y="407" width="1" height="31" fill="#000"/><rect x="974" y="428" width="11" height="3" fill="#000"/><rect x="975" y="429" width="9" height="1" fill="#fff"/>
<rect x="995" y="418" width="1" height="97" fill="#000"/><rect x="990" y="426" width="11" height="56" fill="#000"/>
<rect x="1011" y="476" width="1" height="63" fill="#000"/><rect x="1006" y="477" width="11" height="32" fill="#000"/>
<rect x="1027" y="409" width="1" height="102" fill="#000"/><rect x="1022" y="415" width="11" height="93" fill="#000"/><rect x="1023" y="416" width="9" height="91" fill="#fff"/>
<rect x="1043" y="372" width="1" height="62" fill="#000"/><rect x="1038" y="377" width="11" height="44" fill="#000"/><rect x="1039" y="378" width="9" height="42" fill="#fff"/>
<rect x="1059" y="344" width="1" height="51" fill="#000"/><rect x="1054" y="352" width="11" height="29" fill="#000"/><rect x="1055" y="353" width="9" height="27" fill="#fff"/>
<rect x="1075" y="334" width="1" height="47" fill="#000"/><rect x="1070" y="351" width="11" height="13" fill="#000"/>
<rect x="1091" y="284" width="1" height="112" fill="#000"/><rect x="1086" y="300" width="11" height="63" fill="#000"/><rect x="1087" y="301" width="9" height="61" fill="#fff"/>
<rect x="1107" y="268" width="1" height="38" fill="#000"/><rect x="1102" y="280" width="11" height="19" fill="#000"/><rect x="1103" y="281" width="9" height="17" fill="#fff"/>
<rect x="1123" y="280" width="1" height="110" fill="#000"/><rect x="1118" y="282" width="11" height="73" fill="#000"/>
<rect x="1139" y="330" width="1" height="52" fill="#000"/><rect x="1134" y="357" width="11" height="6" fill="#000"/>
<rect x="1155" y="335" width="1" height="58" fill="#000"/><rect x="1150" y="355" width="11" height="7" fill="#000"/><rect x="1151" y="356" width="9" height="5" fill="#fff"/>
<rect x="1171" y="356" width="1" height="49" fill="#000"/><rect x="1166" y="360" width="11" height="27" fill="#000"/>
<rect x="1187" y="316" width="1" height="74" fill="#000"/><rect x="1182" y="322" width="11" height="61" fill="#000"/><rect x="1183" y="323" width="9" height="59" fill="#fff"/>
<rect x="1203" y="291" width="1" height="52" fill="#000"/><rect x="1198" y="294" width="11" height="27" fill="#000"/><rect x="1199" y="295" width="9" height="25" fill="#fff"/>
<rect x="1219" y="217" width="1" height="84" fill="#000"/><rect x="1214" y="243" width="11" height="55" fill="#000"/><rect x="1215" y="244" width="9" height="53" fill="#fff"/>
<rect x="1235" y="233" width="1" height="31" fill="#000"/><rect x="1230" y="245" width="11" height="10" fill="#000"/>
<rect x="1251" y="191" width="1" height="127" fill="#000"/><rect x="1246" y="251" width="11" height="15" fill="#000"/>
<rect x="1267" y="246" width="1" height="63" fill="#000"/><rect x="1262" y="259" width="11" height="47" fill="#000"/>
<rect x="1283" y="260" width="1" height="52" fill="#000"/><rect x="1278" y="273" width="11" height="31" fill="#000"/><rect x="1279" y="274" width="9" height="29" fill="#fff"/>
<rect x="1299" y="248" width="1" height="35" fill="#000"/><rect x="1294" y="259" width="11" height="15" fill="#000"/><rect x="1295" y="260" width="9" height="13" fill="#fff"/>
<rect x="1315" y="207" width="1" height="77" fill="#000"/><rect x="1310" y="247" width="11" height="27" fill="#000"/>
<rect x="1331" y="241" width="1" height="37" fill="#000"/><rect x="1326" y="261" width="11" height="9" fill="#000"/><rect x="1327" y="262" width="9" height="7" fill="#fff"/>
<rect x="1347" y="221" width="1" height="46" fill="#000"/><rect x="1342" y="221" width="11" height="43" fill="#000"/><rect x="1343" y="222" width="9" height="41" fill="#fff"/>
<rect x="1363" y="206" width="1" height="38" fill="#000"/><rect x="1358" y="206" width="11" height="19" fill="#000"/><rect x="1359" y="207" width="9" height="17" fill="#fff"/>
<rect x="1379" y="100" width="1" height="90" fill="#000"/><rect x="1374" y="104" width="11" height="83" fill="#000"/><rect x="1375" y="105" width="9" height="81" fill="#fff"/>
<rect x="1395" y="79" width="1" height="43" fill="#000"/><rect x="1390" y="86" width="11" height="22" fill="#000"/><rect x="1391" y="87" width="9" height="20" fill="#fff"/>
<rect x="1411" y="64" width="1" height="143" fill="#000"/><rect x="1406" y="87" width="11" height="76" fill="#000"/>
<rect x="1427" y="141" width="1" height="51" fill="#000"/><rect x="1422" y="157" width="11" height="19" fill="#000"/>
<rect x="1443" y="166" width="1" height="218" fill="#000"/><rect x="1438" y="169" width="11" height="167" fill="#000"/>
<rect x="1459" y="316" width="1" height="95" fill="#000"/><rect x="1454" y="318" width="11" height="66" fill="#000"/>
<rect x="3" y="401" width="5" height="5" fill="#f00"/><rect x="4" y="402" width="3" height="3" fill="#fff"/>
<rect x="1497" y="401" width="5" height="5" fill="#f00"/><rect x="1498" y="402" width="3" height="3" fill="#fff"/>
</g>
<g clip-path="url(#cs)">
<path d="M1407 567.5h12M1399 568.5h8M1419 568.5h9M1395 569.5h4M11 608.5h2M20 616.5h2M1361 617.5h2M23 618.5h2M1359 618.5h2M25 619.5h2M1357 619.5h2M1355 620.5h2M28 621.5h2M1352 622.5h2M31 623.5h2M1350 623.5h2M33 624.5h2M1348 624.5h2M36 626.5h2M1345 626.5h2M1343 627.5h2M39 628.5h2M41 629.5h2M1340 629.5h2M44 631.5h2M1337 631.5h2M1335 632.5h2M47 633.5h2M49 634.5h2M1332 634.5h2M1329 635.5h3M52 636.5h2M161 636.5h4M1323 636.5h6M54 637.5h2M157 637.5h4M165 637.5h3M1318 637.5h5M56 638.5h2M153 638.5h4M168 638.5h3M1313 638.5h5M149 639.5h4M171 639.5h4M1307 639.5h6M59 640.5h2M143 640.5h6M175 640.5h3M1302 640.5h5M61 641.5h2M135 641.5h8M178 641.5h9M1298 641.5h4M63 642.5h2M130 642.5h5M187 642.5h9M1295 642.5h3M65 643.5h2M127 643.5h3M1293 643.5h2M67 644.5h24M123 644.5h4M1290 644.5h3M91 645.5h12M120 645.5h3M1287 645.5h3M103 646.5h8M117 646.5h3M1285 646.5h2M111 647.5h6M1282 647.5h3M1279 648.5h3M1277 649.5h2M203 650.5h2M1274 650.5h3M1271 651.5h3M1250 652.5h9M1269 652.5h2M1248 653.5h2M1259 653.5h10M1246 654.5h2M1244 655.5h2M1242 656.5h2M1240 657.5h2M1238 658.5h2M1236 659.5h2M772 666.5h2M1227 667.5h2M775 668.5h2M779 671.5h2M782 673.5h2M563 675.5h8M623 675.5h5M785 675.5h2M561 676.5h2M571 676.5h16M615 676.5h8M587 677.5h28M629 677.5h2M558 678.5h2M555 680.5h2M633 680.5h2M791 680.5h2M551 683.5h2M637 683.5h2M548 685.5h2M722 685.5h2M545 686.5h3M641 686.5h2M719 686.5h3M541 687.5h4M715 687.5h4M799 687.5h2M537 688.5h4M712 688.5h3M533 689.5h4M645 689.5h2M709 689.5h3M527 690.5h6M707 690.5h2M803 690.5h2M519 691.5h8M705 691.5h2M805 691.5h3M498 692.5h21M649 692.5h2M703 692.5h2M808 692.5h3M495 693.5h3M811 693.5h4M847 693.5h7M491 694.5h4M700 694.5h2M815 694.5h3M839 694.5h8M854 694.5h5M488 695.5h3M653 695.5h2M818 695.5h21M859 695.5h6M451 696.5h3M485 696.5h3M697 696.5h2M865 696.5h4M449 697.5h2M454 697.5h5M479 697.5h6M695 697.5h2M869 697.5h3M1200 697.5h2M459 698.5h6M471 698.5h8M657 698.5h2M872 698.5h3M465 699.5h6M659 699.5h2M692 699.5h2M875 699.5h4M445 700.5h2M661 700.5h3M689 700.5h3M879 700.5h3M664 701.5h3M685 701.5h4M882 701.5h3M1195 701.5h2M667 702.5h4M681 702.5h4M885 702.5h2M441 703.5h2M671 703.5h3M677 703.5h4M887 703.5h2M674 704.5h3M889 704.5h2M891 705.5h3M437 706.5h2M894 706.5h2M1189 706.5h2M896 707.5h2M898 708.5h9M907 709.5h9M1185 709.5h2M1182 711.5h2M1179 713.5h2M1175 716.5h2M1153 717.5h6M1147 718.5h6M1159 718.5h8M1172 718.5h2M1142 719.5h5M1167 719.5h5M1137 720.5h5M1133 721.5h4M1129 722.5h4M1125 723.5h4M371 724.5h2M1121 724.5h4M369 725.5h2M373 725.5h2M1117 725.5h4M367 726.5h2M375 726.5h3M417 726.5h3M1113 726.5h4M378 727.5h3M413 727.5h4M1109 727.5h4M364 728.5h2M381 728.5h2M409 728.5h4M1107 728.5h2M383 729.5h3M405 729.5h4M361 730.5h2M386 730.5h19M359 731.5h2M356 733.5h2M354 734.5h2M351 735.5h3M347 736.5h4M344 737.5h3M341 738.5h3M339 739.5h2M337 740.5h2M335 741.5h2M333 742.5h2M331 743.5h2M275 745.5h2M328 745.5h2M277 746.5h3M305 746.5h6M326 746.5h2M280 747.5h3M301 747.5h4M311 747.5h8M324 747.5h2M283 748.5h4M297 748.5h4M319 748.5h5M287 749.5h3M293 749.5h4M290 750.5h3M965 769.5h2M1073 771.5h2M969 772.5h2M1071 772.5h2M1068 774.5h2M973 775.5h2M1065 776.5h2M1063 777.5h2M977 778.5h2M1060 779.5h2M1041 798.5h2M1038 800.5h2M1035 802.5h2M1031 805.5h2M1028 807.5h2M1026 808.5h2M1023 809.5h3M1019 810.5h4M1016 811.5h3M1013 812.5h3M1011 813.5h2M3.5 600v1M4.5 601v1M5.5 602v1M6.5 603v1M7.5 604v1M8.5 605v1M9.5 606v1M10.5 607v1M13.5 609v1M14.5 610v1M15.5 611v1M16.5 612v1M17.5 613v1M18.5 614v1M19.5 615v1M22.5 617v1M27.5 620v1M30.5 622v1M35.5 625v1M38.5 627v1M43.5 630v1M46.5 632v1M51.5 635v1M58.5 639v1M196.5 643v1M197.5 644v1M198.5 645v1M199.5 646v1M200.5 647v1M201.5 648v1M202.5 649v1M205.5 651v1M206.5 652v1M207.5 653v1M208.5 654v1M209.5 655v1M210.5 656v1M211.5 657v1M212.5 658v1M213.5 659v1M214.5 660v2M215.5 662v1M216.5 663v1M217.5 664v1M218.5 665v1M219.5 666v2M220.5 668v1M221.5 669v1M222.5 670v1M223.5 671v1M224.5 672v1M225.5 673v2M226.5 675v1M227.5 676v1M228.5 677v2M229.5 679v2M230.5 681v2M231.5 683v2M232.5 685v1M233.5 686v2M234.5 688v2M235.5 690v2M236.5 692v2M237.5 694v1M238.5 695v2M239.5 697v2M240.5 699v2M241.5 701v2M242.5 703v2M243.5 705v1M244.5 706v1M245.5 707v2M246.5 709v1M247.5 710v1M248.5 711v2M249.5 713v1M250.5 714v1M251.5 715v2M252.5 717v1M253.5 718v1M254.5 719v2M255.5 721v1M256.5 722v1M257.5 723v1M258.5 724v2M259.5 726v1M260.5 727v1M261.5 728v1M262.5 729v2M263.5 731v1M264.5 732v1M265.5 733v1M266.5 734v1M267.5 735v2M268.5 737v1M269.5 738v1M270.5 739v1M271.5 740v1M272.5 741v1M273.5 742v2M274.5 744v1M330.5 744v1M358.5 732v1M363.5 729v1M366.5 727v1M420.5 725v1M421.5 724v1M422.5 723v1M423.5 721v2M424.5 720v1M425.5 719v1M426.5 718v1M427.5 717v1M428.5 716v1M429.5 715v1M430.5 714v1M431.5 712v2M432.5 711v1M433.5 710v1M434.5 709v1M435.5 708v1M436.5 707v1M439.5 705v1M440.5 704v1M443.5 702v1M444.5 701v1M447.5 699v1M448.5 698v1M550.5 684v1M553.5 682v1M554.5 681v1M557.5 679v1M560.5 677v1M628.5 676v1M631.5 678v1M632.5 679v1M635.5 681v1M636.5 682v1M639.5 684v1M640.5 685v1M643.5 687v1M644.5 688v1M647.5 690v1M648.5 691v1M651.5 693v1M652.5 694v1M655.5 696v1M656.5 697v1M694.5 698v1M699.5 695v1M702.5 693v1M724.5 683v2M725.5 682v1M726.5 681v1M727.5 679v2M728.5 678v1M729.5 677v1M730.5 675v2M731.5 674v1M732.5 672v2M733.5 671v1M734.5 670v1M735.5 668v2M736.5 667v1M737.5 666v1M738.5 664v2M739.5 663v1M740.5 662v1M741.5 660v2M742.5 659v1M743.5 658v1M744.5 656v2M745.5 655v1M746.5 654v1M747.5 652v2M748.5 651v1M749.5 650v1M750.5 648v2M751.5 647v1M752.5 646v1M753.5 645v1M754.5 643v2M755.5 642v1M756.5 643v2M757.5 645v1M758.5 646v1M759.5 647v2M760.5 649v1M761.5 650v2M762.5 652v1M763.5 653v2M764.5 655v1M765.5 656v2M766.5 658v1M767.5 659v1M768.5 660v2M769.5 662v1M770.5 663v2M771.5 665v1M774.5 667v1M777.5 669v1M778.5 670v1M781.5 672v1M784.5 674v1M787.5 676v1M788.5 677v1M789.5 678v1M790.5 679v1M793.5 681v1M794.5 682v1M795.5 683v1M796.5 684v1M797.5 685v1M798.5 686v1M801.5 688v1M802.5 689v1M916.5 710v1M917.5 711v1M918.5 712v1M919.5 713v1M920.5 714v1M921.5 715v1M922.5 716v1M923.5 717v1M924.5 718v1M925.5 719v1M926.5 720v1M927.5 721v1M928.5 722v1M929.5 723v1M930.5 724v1M931.5 725v1M932.5 726v2M933.5 728v1M934.5 729v2M935.5 731v1M936.5 732v2M937.5 734v1M938.5 735v2M939.5 737v1M940.5 738v2M941.5 740v1M942.5 741v2M943.5 743v1M944.5 744v2M945.5 746v1M946.5 747v2M947.5 749v1M948.5 750v1M949.5 751v1M950.5 752v1M951.5 753v2M952.5 755v1M953.5 756v1M954.5 757v1M955.5 758v1M956.5 759v1M957.5 760v1M958.5 761v1M959.5 762v2M960.5 764v1M961.5 765v1M962.5 766v1M963.5 767v1M964.5 768v1M967.5 770v1M968.5 771v1M971.5 773v1M972.5 774v1M975.5 776v1M976.5 777v1M979.5 779v1M980.5 780v1M981.5 781v1M982.5 782v1M983.5 783v1M984.5 784v1M985.5 785v1M986.5 786v1M987.5 787v1M988.5 788v2M989.5 790v1M990.5 791v1M991.5 792v1M992.5 793v1M993.5 794v1M994.5 795v1M995.5 796v1M996.5 797v1M997.5 798v1M998.5 799v1M999.5 800v1M1000.5 801v1M1001.5 802v1M1002.5 803v1M1003.5 804v1M1004.5 805v2M1005.5 807v1M1006.5 808v1M1007.5 809v1M1008.5 810v1M1009.5 811v1M1010.5 812v1M1030.5 806v1M1033.5 804v1M1034.5 803v1M1037.5 801v1M1040.5 799v1M1043.5 797v1M1044.5 796v1M1045.5 795v1M1046.5 794v1M1047.5 793v1M1048.5 792v1M1049.5 791v1M1050.5 790v1M1051.5 789v1M1052.5 787v2M1053.5 786v1M1054.5 785v1M1055.5 784v1M1056.5 783v1M1057.5 782v1M1058.5 781v1M1059.5 780v1M1062.5 778v1M1067.5 775v1M1070.5 773v1M1075.5 770v1M1076.5 769v1M1077.5 767v2M1078.5 766v1M1079.5 765v1M1080.5 763v2M1081.5 762v1M1082.5 761v1M1083.5 759v2M1084.5 758v1M1085.5 757v1M1086.5 755v2M1087.5 754v1M1088.5 753v1M1089.5 752v1M1090.5 750v2M1091.5 749v1M1092.5 748v1M1093.5 746v2M1094.5 745v1M1095.5 744v1M1096.5 742v2M1097.5 741v1M1098.5 740v1M1099.5 738v2M1100.5 737v1M1101.5 736v1M1102.5 734v2M1103.5 733v1M1104.5 732v1M1105.5 731v1M1106.5 729v2M1174.5 717v1M1177.5 715v1M1178.5 714v1M1181.5 712v1M1184.5 710v1M1187.5 708v1M1188.5 707v1M1191.5 705v1M1192.5 704v1M1193.5 703v1M1194.5 702v1M1197.5 700v1M1198.5 699v1M1199.5 698v1M1202.5 696v1M1203.5 695v1M1204.5 694v1M1205.5 692v2M1206.5 691v1M1207.5 690v1M1208.5 689v1M1209.5 687v2M1210.5 686v1M1211.5 685v1M1212.5 684v1M1213.5 682v2M1214.5 681v1M1215.5 680v1M1216.5 679v1M1217.5 677v2M1218.5 676v1M1219.5 675v1M1220.5 674v1M1221.5 673v1M1222.5 672v1M1223.5 671v1M1224.5 670v1M1225.5 669v1M1226.5 668v1M1229.5 666v1M1230.5 665v1M1231.5 664v1M1232.5 663v1M1233.5 662v1M1234.5 661v1M1235.5 660v1M1334.5 633v1M1339.5 630v1M1342.5 628v1M1347.5 625v1M1354.5 621v1M1363.5 616v1M1364.5 614v2M1365.5 613v1M1366.5 611v2M1367.5 610v1M1368.5 608v2M1369.5 606v2M1370.5 605v1M1371.5 603v2M1372.5 602v1M1373.5 600v2M1374.5 599v1M1375.5 597v2M1376.5 595v2M1377.5 594v1M1378.5 592v2M1379.5 591v1M1380.5 589v2M1381.5 588v1M1382.5 587v1M1383.5 585v2M1384.5 584v1M1385.5 583v1M1386.5 581v2M1387.5 580v1M1388.5 578v2M1389.5 577v1M1390.5 576v1M1391.5 574v2M1392.5 573v1M1393.5 572v1M1394.5 570v2M1428.5 569v2M1429.5 571v2M1430.5 573v2M1431.5 575v2M1432.5 577v2M1433.5 579v2M1434.5 581v2M1435.5 583v1M1436.5 584v2M1437.5 586v2M1438.5 588v2M1439.5 590v2M1440.5 592v2M1441.5 594v2M1442.5 596v2M1443.5 598v1M1444.5 599v2M1445.5 601v2M1446.5 603v2M1447.5 605v2M1448.5 607v2M1449.5 609v2M1450.5 611v2M1451.5 613v2M1452.5 615v2M1453.5 617v2M1454.5 619v2M1455.5 621v2M1456.5 623v2M1457.5 625v2M1458.5 627v2M1459.5 629v1" fill="none" stroke="#c0c0c0" stroke-width="1"/>
<rect x="2" y="601" width="2" height="63" fill="#00008b"/><rect x="18" y="615" width="2" height="49" fill="#00008b"/><rect x="34" y="625" width="2" height="39" fill="#00008b"/><rect x="50" y="636" width="2" height="28" fill="#00008b"/><rect x="66" y="644" width="2" height="20" fill="#00008b"/><rect x="82" y="645" width="2" height="19" fill="#00008b"/><rect x="98" y="645" width="2" height="19" fill="#00008b"/><rect x="114" y="648" width="2" height="16" fill="#00008b"/><rect x="130" y="643" width="2" height="21" fill="#00008b"/><rect x="146" y="641" width="2" height="23" fill="#00008b"/><rect x="162" y="637" width="2" height="27" fill="#00008b"/><rect x="178" y="641" width="2" height="23" fill="#00008b"/><rect x="194" y="642" width="2" height="22" fill="#00008b"/><rect x="210" y="658" width="2" height="6" fill="#00008b"/><rect x="226" y="664" width="2" height="12" fill="#00008b"/><rect x="242" y="664" width="2" height="42" fill="#00008b"/><rect x="258" y="664" width="2" height="63" fill="#00008b"/><rect x="274" y="664" width="2" height="82" fill="#00008b"/><rect x="290" y="664" width="2" height="86" fill="#00008b"/><rect x="306" y="664" width="2" height="83" fill="#00008b"/><rect x="322" y="664" width="2" height="84" fill="#00008b"/><rect x="338" y="664" width="2" height="76" fill="#00008b"/><rect x="354" y="664" width="2" height="71" fill="#00008b"/><rect x="370" y="664" width="2" height="60" fill="#00008b"/><rect x="386" y="664" width="2" height="66" fill="#00008b"/><rect x="402" y="664" width="2" height="66" fill="#00008b"/><rect x="418" y="664" width="2" height="63" fill="#00008b"/><rect x="434" y="664" width="2" height="44" fill="#00008b"/><rect x="450" y="664" width="2" height="33" fill="#00008b"/><rect x="466" y="664" width="2" height="36" fill="#00008b"/><rect x="482" y="664" width="2" height="33" fill="#00008b"/><rect x="498" y="664" width="2" height="28" fill="#00008b"/><rect x="514" y="664" width="2" height="28" fill="#00008b"/><rect x="530" y="664" width="2" height="26" fill="#00008b"/><rect x="546" y="664" width="2" height="22" fill="#00008b"/><rect x="562" y="664" width="2" height="12" fill="#00008b"/><rect x="578" y="664" width="2" height="12" fill="#00008b"/><rect x="594" y="664" width="2" height="13" fill="#00008b"/><rect x="610" y="664" width="2" height="13" fill="#00008b"/><rect x="626" y="664" width="2" height="11" fill="#00008b"/><rect x="642" y="664" width="2" height="24" fill="#00008b"/><rect x="658" y="664" width="2" height="35" fill="#00008b"/><rect x="674" y="664" width="2" height="40" fill="#00008b"/><rect x="690" y="664" width="2" height="36" fill="#00008b"/><rect x="706" y="664" width="2" height="26" fill="#00008b"/><rect x="722" y="664" width="2" height="22" fill="#00008b"/><rect x="738" y="663" width="2" height="1" fill="#00008b"/><rect x="754" y="642" width="2" height="22" fill="#00008b"/><rect x="770" y="664" width="2" height="1" fill="#00008b"/><rect x="786" y="664" width="2" height="13" fill="#00008b"/><rect x="802" y="664" width="2" height="26" fill="#00008b"/><rect x="818" y="664" width="2" height="32" fill="#00008b"/><rect x="834" y="664" width="2" height="32" fill="#00008b"/><rect x="850" y="664" width="2" height="30" fill="#00008b"/><rect x="866" y="664" width="2" height="33" fill="#00008b"/><rect x="882" y="664" width="2" height="38" fill="#00008b"/><rect x="898" y="664" width="2" height="44" fill="#00008b"/><rect x="914" y="664" width="2" height="45" fill="#00008b"/><rect x="930" y="664" width="2" height="61" fill="#00008b"/><rect x="946" y="664" width="2" height="85" fill="#00008b"/><rect x="962" y="664" width="2" height="103" fill="#00008b"/><rect x="978" y="664" width="2" height="115" fill="#00008b"/><rect x="994" y="664" width="2" height="132" fill="#00008b"/><rect x="1010" y="664" width="2" height="149" fill="#00008b"/><rect x="1026" y="664" width="2" height="144" fill="#00008b"/><rect x="1042" y="664" width="2" height="134" fill="#00008b"/><rect x="1058" y="664" width="2" height="117" fill="#00008b"/><rect x="1074" y="664" width="2" height="106" fill="#00008b"/><rect x="1090" y="664" width="2" height="85" fill="#00008b"/><rect x="1106" y="664" width="2" height="64" fill="#00008b"/><rect x="1122" y="664" width="2" height="60" fill="#00008b"/><rect x="1138" y="664" width="2" height="57" fill="#00008b"/><rect x="1154" y="664" width="2" height="53" fill="#00008b"/><rect x="1170" y="664" width="2" height="55" fill="#00008b"/><rect x="1186" y="664" width="2" height="45" fill="#00008b"/><rect x="1202" y="664" width="2" height="32" fill="#00008b"/><rect x="1218" y="664" width="2" height="12" fill="#00008b"/><rect x="1234" y="661" width="2" height="3" fill="#00008b"/><rect x="1250" y="652" width="2" height="12" fill="#00008b"/><rect x="1266" y="654" width="2" height="10" fill="#00008b"/><rect x="1282" y="648" width="2" height="16" fill="#00008b"/><rect x="1298" y="642" width="2" height="22" fill="#00008b"/><rect x="1314" y="639" width="2" height="25" fill="#00008b"/><rect x="1330" y="636" width="2" height="28" fill="#00008b"/><rect x="1346" y="626" width="2" height="38" fill="#00008b"/><rect x="1362" y="616" width="2" height="48" fill="#00008b"/><rect x="1378" y="591" width="2" height="73" fill="#00008b"/><rect x="1394" y="569" width="2" height="95" fill="#00008b"/><rect x="1410" y="568" width="2" height="96" fill="#00008b"/><rect x="1426" y="569" width="2" height="95" fill="#00008b"/><rect x="1442" y="598" width="2" height="66" fill="#00008b"/><rect x="1458" y="631" width="2" height="33" fill="#00008b"/>
<path d="M4 582.5h2M6 583.5h2M8 584.5h2M11 586.5h2M13 587.5h2M15 588.5h2M17 589.5h2M19 590.5h2M21 591.5h2M23 592.5h2M25 593.5h2M27 594.5h3M30 595.5h2M32 596.5h2M34 597.5h3M37 598.5h2M39 599.5h2M41 600.5h2M1451 600.5h8M43 601.5h3M1442 601.5h9M46 602.5h2M1439 602.5h3M48 603.5h2M1435 603.5h4M50 604.5h3M1432 604.5h3M53 605.5h2M1429 605.5h3M55 606.5h3M1426 606.5h3M58 607.5h3M1424 607.5h2M61 608.5h2M1422 608.5h2M63 609.5h3M1420 609.5h2M66 610.5h3M1418 610.5h2M69 611.5h2M1416 611.5h2M71 612.5h3M1414 612.5h2M74 613.5h3M1412 613.5h2M77 614.5h2M79 615.5h3M1409 615.5h2M82 616.5h3M1407 616.5h2M85 617.5h3M88 618.5h3M1404 618.5h2M91 619.5h4M95 620.5h3M1401 620.5h2M98 621.5h3M1399 621.5h2M101 622.5h2M103 623.5h3M1396 623.5h2M106 624.5h3M109 625.5h2M1393 625.5h2M111 626.5h3M1391 626.5h2M114 627.5h3M1389 627.5h2M117 628.5h2M1387 628.5h2M119 629.5h3M122 630.5h3M1384 630.5h2M125 631.5h2M1382 631.5h2M127 632.5h3M1380 632.5h2M130 633.5h3M1378 633.5h2M133 634.5h4M1376 634.5h2M137 635.5h4M1374 635.5h2M141 636.5h4M1372 636.5h2M145 637.5h6M1370 637.5h2M151 638.5h8M1368 638.5h2M159 639.5h8M1366 639.5h2M167 640.5h8M1364 640.5h2M175 641.5h12M1362 641.5h2M187 642.5h16M1360 642.5h2M203 643.5h10M1358 643.5h2M213 644.5h4M1355 644.5h3M217 645.5h4M1353 645.5h2M221 646.5h4M1351 646.5h2M225 647.5h4M1349 647.5h2M229 648.5h2M1346 648.5h3M231 649.5h2M1344 649.5h2M233 650.5h2M1342 650.5h2M235 651.5h3M1339 651.5h3M238 652.5h2M1337 652.5h2M240 653.5h2M1335 653.5h2M242 654.5h2M1333 654.5h2M244 655.5h2M1330 655.5h3M246 656.5h2M1328 656.5h2M248 657.5h2M1326 657.5h2M1324 658.5h2M251 659.5h2M1322 659.5h2M253 660.5h2M1320 660.5h2M255 661.5h2M1318 661.5h2M257 662.5h2M1316 662.5h2M1313 664.5h2M261 665.5h2M1311 665.5h2M1308 667.5h2M265 668.5h2M1305 669.5h2M1303 670.5h2M269 671.5h2M1300 672.5h2M1298 673.5h2M273 674.5h2M1296 674.5h2M1294 675.5h2M276 676.5h2M1292 676.5h2M1290 677.5h2M279 678.5h2M827 678.5h16M1288 678.5h2M795 679.5h32M843 679.5h16M1286 679.5h2M783 680.5h12M859 680.5h11M1284 680.5h2M283 681.5h2M775 681.5h8M870 681.5h5M1282 681.5h2M625 682.5h38M763 682.5h12M875 682.5h6M1280 682.5h2M286 683.5h2M619 683.5h6M663 683.5h8M753 683.5h10M881 683.5h3M1278 683.5h2M614 684.5h5M671 684.5h8M747 684.5h6M884 684.5h2M1276 684.5h2M289 685.5h2M607 685.5h7M679 685.5h8M742 685.5h5M886 685.5h2M1274 685.5h2M599 686.5h8M687 686.5h12M735 686.5h7M888 686.5h2M1272 686.5h2M591 687.5h8M699 687.5h16M727 687.5h8M890 687.5h2M1270 687.5h2M293 688.5h2M583 688.5h8M715 688.5h12M892 688.5h2M1268 688.5h2M577 689.5h6M894 689.5h2M1266 689.5h2M573 690.5h4M896 690.5h2M1264 690.5h2M569 691.5h4M898 691.5h3M1262 691.5h2M565 692.5h4M901 692.5h3M1260 692.5h2M299 693.5h2M562 693.5h3M904 693.5h3M1258 693.5h2M559 694.5h3M907 694.5h4M1256 694.5h2M557 695.5h2M911 695.5h3M1254 695.5h2M554 696.5h3M914 696.5h3M1252 696.5h2M304 697.5h2M551 697.5h3M917 697.5h3M1250 697.5h2M549 698.5h2M920 698.5h3M1248 698.5h2M545 699.5h4M923 699.5h4M1246 699.5h2M541 700.5h4M927 700.5h3M1244 700.5h2M309 701.5h2M537 701.5h4M930 701.5h3M1242 701.5h2M533 702.5h4M933 702.5h2M1240 702.5h2M530 703.5h3M935 703.5h3M1238 703.5h2M313 704.5h2M527 704.5h3M938 704.5h3M1236 704.5h2M523 705.5h4M941 705.5h2M520 706.5h3M943 706.5h3M1233 706.5h2M317 707.5h2M517 707.5h3M946 707.5h2M1231 707.5h2M513 708.5h4M948 708.5h2M509 709.5h4M950 709.5h2M1228 709.5h2M321 710.5h2M505 710.5h4M952 710.5h2M501 711.5h4M954 711.5h2M1225 711.5h2M324 712.5h2M497 712.5h4M956 712.5h2M1223 712.5h2M493 713.5h4M958 713.5h2M327 714.5h2M489 714.5h4M960 714.5h2M1220 714.5h2M485 715.5h4M962 715.5h2M482 716.5h3M964 716.5h2M1217 716.5h2M331 717.5h2M479 717.5h3M475 718.5h4M967 718.5h2M1214 718.5h2M334 719.5h2M472 719.5h3M969 719.5h2M469 720.5h3M1211 720.5h2M337 721.5h2M466 721.5h3M972 721.5h2M463 722.5h3M340 723.5h2M459 723.5h4M975 723.5h2M1207 723.5h2M342 724.5h2M456 724.5h3M977 724.5h2M344 725.5h2M453 725.5h3M1204 725.5h2M346 726.5h2M450 726.5h3M980 726.5h2M348 727.5h2M447 727.5h3M1201 727.5h2M350 728.5h2M445 728.5h2M983 728.5h2M1199 728.5h2M352 729.5h2M442 729.5h3M985 729.5h2M1197 729.5h2M354 730.5h3M439 730.5h3M1195 730.5h2M357 731.5h3M437 731.5h2M988 731.5h2M360 732.5h3M434 732.5h3M1192 732.5h2M363 733.5h4M431 733.5h3M991 733.5h2M1190 733.5h2M367 734.5h3M427 734.5h4M993 734.5h2M1188 734.5h2M370 735.5h3M424 735.5h3M373 736.5h4M421 736.5h3M1185 736.5h2M377 737.5h4M415 737.5h6M997 737.5h2M1183 737.5h2M381 738.5h4M407 738.5h8M385 739.5h22M1180 739.5h2M1177 741.5h2M1003 742.5h2M1175 742.5h2M1172 744.5h2M1008 746.5h2M1169 746.5h2M1167 747.5h2M1164 749.5h2M1161 751.5h2M1015 752.5h2M1159 752.5h2M1156 754.5h2M1153 756.5h2M1150 758.5h2M1023 759.5h2M1147 760.5h2M1028 763.5h2M1143 763.5h2M1030 764.5h2M1032 765.5h2M1140 765.5h2M1035 767.5h2M1137 767.5h2M1037 768.5h2M1135 768.5h2M1039 769.5h2M1133 769.5h2M1041 770.5h2M1131 770.5h2M1044 772.5h2M1128 772.5h2M1046 773.5h2M1126 773.5h2M1048 774.5h2M1124 774.5h2M1050 775.5h2M1122 775.5h2M1052 776.5h2M1119 776.5h3M1054 777.5h2M1115 777.5h4M1056 778.5h2M1112 778.5h3M1058 779.5h3M1109 779.5h3M1061 780.5h3M1105 780.5h4M1064 781.5h3M1101 781.5h4M1067 782.5h4M1097 782.5h4M1071 783.5h3M1093 783.5h4M1074 784.5h19M3.5 581v1M10.5 585v1M250.5 658v1M259.5 663v1M260.5 664v1M263.5 666v1M264.5 667v1M267.5 669v1M268.5 670v1M271.5 672v1M272.5 673v1M275.5 675v1M278.5 677v1M281.5 679v1M282.5 680v1M285.5 682v1M288.5 684v1M291.5 686v1M292.5 687v1M295.5 689v1M296.5 690v1M297.5 691v1M298.5 692v1M301.5 694v1M302.5 695v1M303.5 696v1M306.5 698v1M307.5 699v1M308.5 700v1M311.5 702v1M312.5 703v1M315.5 705v1M316.5 706v1M319.5 708v1M320.5 709v1M323.5 711v1M326.5 713v1M329.5 715v1M330.5 716v1M333.5 718v1M336.5 720v1M339.5 722v1M966.5 717v1M971.5 720v1M974.5 722v1M979.5 725v1M982.5 727v1M987.5 730v1M990.5 732v1M995.5 735v1M996.5 736v1M999.5 738v1M1000.5 739v1M1001.5 740v1M1002.5 741v1M1005.5 743v1M1006.5 744v1M1007.5 745v1M1010.5 747v1M1011.5 748v1M1012.5 749v1M1013.5 750v1M1014.5 751v1M1017.5 753v1M1018.5 754v1M1019.5 755v1M1020.5 756v1M1021.5 757v1M1022.5 758v1M1025.5 760v1M1026.5 761v1M1027.5 762v1M1034.5 766v1M1043.5 771v1M1130.5 771v1M1139.5 766v1M1142.5 764v1M1145.5 762v1M1146.5 761v1M1149.5 759v1M1152.5 757v1M1155.5 755v1M1158.5 753v1M1163.5 750v1M1166.5 748v1M1171.5 745v1M1174.5 743v1M1179.5 740v1M1182.5 738v1M1187.5 735v1M1194.5 731v1M1203.5 726v1M1206.5 724v1M1209.5 722v1M1210.5 721v1M1213.5 719v1M1216.5 717v1M1219.5 715v1M1222.5 713v1M1227.5 710v1M1230.5 708v1M1235.5 705v1M1302.5 671v1M1307.5 668v1M1310.5 666v1M1315.5 663v1M1386.5 629v1M1395.5 624v1M1398.5 622v1M1403.5 619v1M1406.5 617v1M1411.5 614v1" fill="none" stroke="#000" stroke-width="1"/>
</g>
<rect x="2" y="2" width="1501" height="1" fill="#000"/><rect x="2" y="551" width="1501" height="1" fill="#000"/><rect x="2" y="2" width="1" height="550" fill="#000"/><rect x="1502" y="2" width="1" height="550" fill="#000"/>
<rect x="2" y="553" width="1501" height="1" fill="#000"/><rect x="2" y="826" width="1501" height="1" fill="#000"/><rect x="2" y="553" width="1" height="274" fill="#000"/><rect x="1502" y="553" width="1" height="274" fill="#000"/><rect x="1503" y="555" width="1" height="1" fill="#000"/><rect x="1503" y="825" width="1" height="1" fill="#000"/>
<rect x="1503" y="42" width="2" height="1" fill="#000"/><rect x="1503" y="91" width="2" height="1" fill="#000"/><rect x="1503" y="140" width="2" height="1" fill="#000"/><rect x="1503" y="189" width="2" height="1" fill="#000"/><rect x="1503" y="238" width="2" height="1" fill="#000"/><rect x="1503" y="287" width="2" height="1" fill="#000"/><rect x="1503" y="336" width="2" height="1" fill="#000"/><rect x="1503" y="434" width="2" height="1" fill="#000"/><rect x="1503" y="483" width="2" height="1" fill="#000"/><rect x="1503" y="532" width="2" height="1" fill="#000"/><rect x="1503" y="664" width="2" height="1" fill="#000"/><rect x="1503" y="384" width="1" height="1" fill="#000"/>
<rect x="3" y="827" width="1" height="3" fill="#000"/><rect x="99" y="827" width="1" height="3" fill="#000"/><rect x="195" y="827" width="1" height="3" fill="#000"/><rect x="291" y="827" width="1" height="3" fill="#000"/><rect x="387" y="827" width="1" height="3" fill="#000"/><rect x="483" y="827" width="1" height="3" fill="#000"/><rect x="579" y="827" width="1" height="3" fill="#000"/><rect x="675" y="827" width="1" height="3" fill="#000"/><rect x="771" y="827" width="1" height="3" fill="#000"/><rect x="867" y="827" width="1" height="3" fill="#000"/><rect x="963" y="827" width="1" height="3" fill="#000"/><rect x="1059" y="827" width="1" height="3" fill="#000"/><rect x="1155" y="827" width="1" height="3" fill="#000"/><rect x="1251" y="827" width="1" height="3" fill="#000"/><rect x="1347" y="827" width="1" height="3" fill="#000"/><rect x="1443" y="827" width="1" height="3" fill="#000"/>
<rect x="1504" y="376" width="56" height="14" fill="#000"/><rect x="1504" y="397" width="56" height="14" fill="#f00"/>
<rect x="6" y="10" width="9" height="1" fill="#000"/><rect x="7" y="11" width="7" height="1" fill="#000"/><rect x="8" y="12" width="5" height="1" fill="#000"/><rect x="9" y="13" width="3" height="1" fill="#000"/><rect x="10" y="14" width="1" height="1" fill="#000"/>
</g>
<text x="20.5" y="17" textLength="74.5" lengthAdjust="spacingAndGlyphs">XAUUSD,Daily</text>
<text x="103.3" y="17" textLength="195.5" lengthAdjust="spacingAndGlyphs">1854.82 1855.58 1817.03 1828.13</text>
<text x="1508.7" y="47" textLength="46" lengthAdjust="spacingAndGlyphs">1968.30</text>
<text x="1508.7" y="96" textLength="46" lengthAdjust="spacingAndGlyphs">1947.90</text>
<text x="1508.7" y="145" textLength="46" lengthAdjust="spacingAndGlyphs">1927.90</text>
<text x="1508.7" y="194" textLength="46" lengthAdjust="spacingAndGlyphs">1907.90</text>
<text x="1508.7" y="243" textLength="46" lengthAdjust="spacingAndGlyphs">1887.50</text>
<text x="1508.7" y="292" textLength="46" lengthAdjust="spacingAndGlyphs">1867.50</text>
<text x="1508.7" y="341" textLength="46" lengthAdjust="spacingAndGlyphs">1847.10</text>
<text x="1508.7" y="439" textLength="46" lengthAdjust="spacingAndGlyphs">1807.10</text>
<text x="1508.7" y="488" textLength="46" lengthAdjust="spacingAndGlyphs">1786.70</text>
<text x="1508.7" y="537" textLength="46" lengthAdjust="spacingAndGlyphs">1766.70</text>
<text x="1508.7" y="388" textLength="46" lengthAdjust="spacingAndGlyphs" class="w">1828.13</text>
<text x="1508.7" y="409" textLength="46" lengthAdjust="spacingAndGlyphs" class="w">1819.69</text>
<text x="1506.3" y="568" textLength="38.5" lengthAdjust="spacingAndGlyphs">20.623</text>
<text x="1506.3" y="669" textLength="24.3" lengthAdjust="spacingAndGlyphs">0.00</text>
<text x="1505.8" y="823" textLength="42.3" lengthAdjust="spacingAndGlyphs">-30.351</text>
<text x="7.2" y="569" textLength="84.8" lengthAdjust="spacingAndGlyphs">MACD(12,26,9)</text>
<text x="96.2" y="569" textLength="31.5" lengthAdjust="spacingAndGlyphs">6.304</text>
<text x="132.3" y="569" textLength="38.5" lengthAdjust="spacingAndGlyphs">12.057</text>
<text x="178.8" y="569" textLength="46.6" lengthAdjust="spacingAndGlyphs">-&gt;MA(1)</text>
<text x="230.3" y="569" textLength="31.5" lengthAdjust="spacingAndGlyphs">6.304</text>
<text x="2.3" y="842" textLength="63" lengthAdjust="spacingAndGlyphs">2 Sep 2020</text>
<text x="98.3" y="842" textLength="70" lengthAdjust="spacingAndGlyphs">10 Sep 2020</text>
<text x="194.3" y="842" textLength="70" lengthAdjust="spacingAndGlyphs">18 Sep 2020</text>
<text x="290" y="842" textLength="70" lengthAdjust="spacingAndGlyphs">28 Sep 2020</text>
<text x="386" y="842" textLength="62.5" lengthAdjust="spacingAndGlyphs">6 Oct 2020</text>
<text x="482" y="842" textLength="69.5" lengthAdjust="spacingAndGlyphs">14 Oct 2020</text>
<text x="578" y="842" textLength="69.5" lengthAdjust="spacingAndGlyphs">22 Oct 2020</text>
<text x="674" y="842" textLength="69.5" lengthAdjust="spacingAndGlyphs">30 Oct 2020</text>
<text x="769.8" y="842" textLength="63.5" lengthAdjust="spacingAndGlyphs">9 Nov 2020</text>
<text x="865.8" y="842" textLength="70.8" lengthAdjust="spacingAndGlyphs">17 Nov 2020</text>
<text x="961.7" y="842" textLength="70.8" lengthAdjust="spacingAndGlyphs">25 Nov 2020</text>
<text x="1057.8" y="842" textLength="63.3" lengthAdjust="spacingAndGlyphs">3 Dec 2020</text>
<text x="1154.5" y="842" textLength="70" lengthAdjust="spacingAndGlyphs">11 Dec 2020</text>
<text x="1250" y="842" textLength="70.3" lengthAdjust="spacingAndGlyphs">21 Dec 2020</text>
<text x="1346" y="842" textLength="70.2" lengthAdjust="spacingAndGlyphs">30 Dec 2020</text>
<text x="1441.7" y="842" textLength="60" lengthAdjust="spacingAndGlyphs">8 Jan 2021</text>
</svg>
</body></html>
